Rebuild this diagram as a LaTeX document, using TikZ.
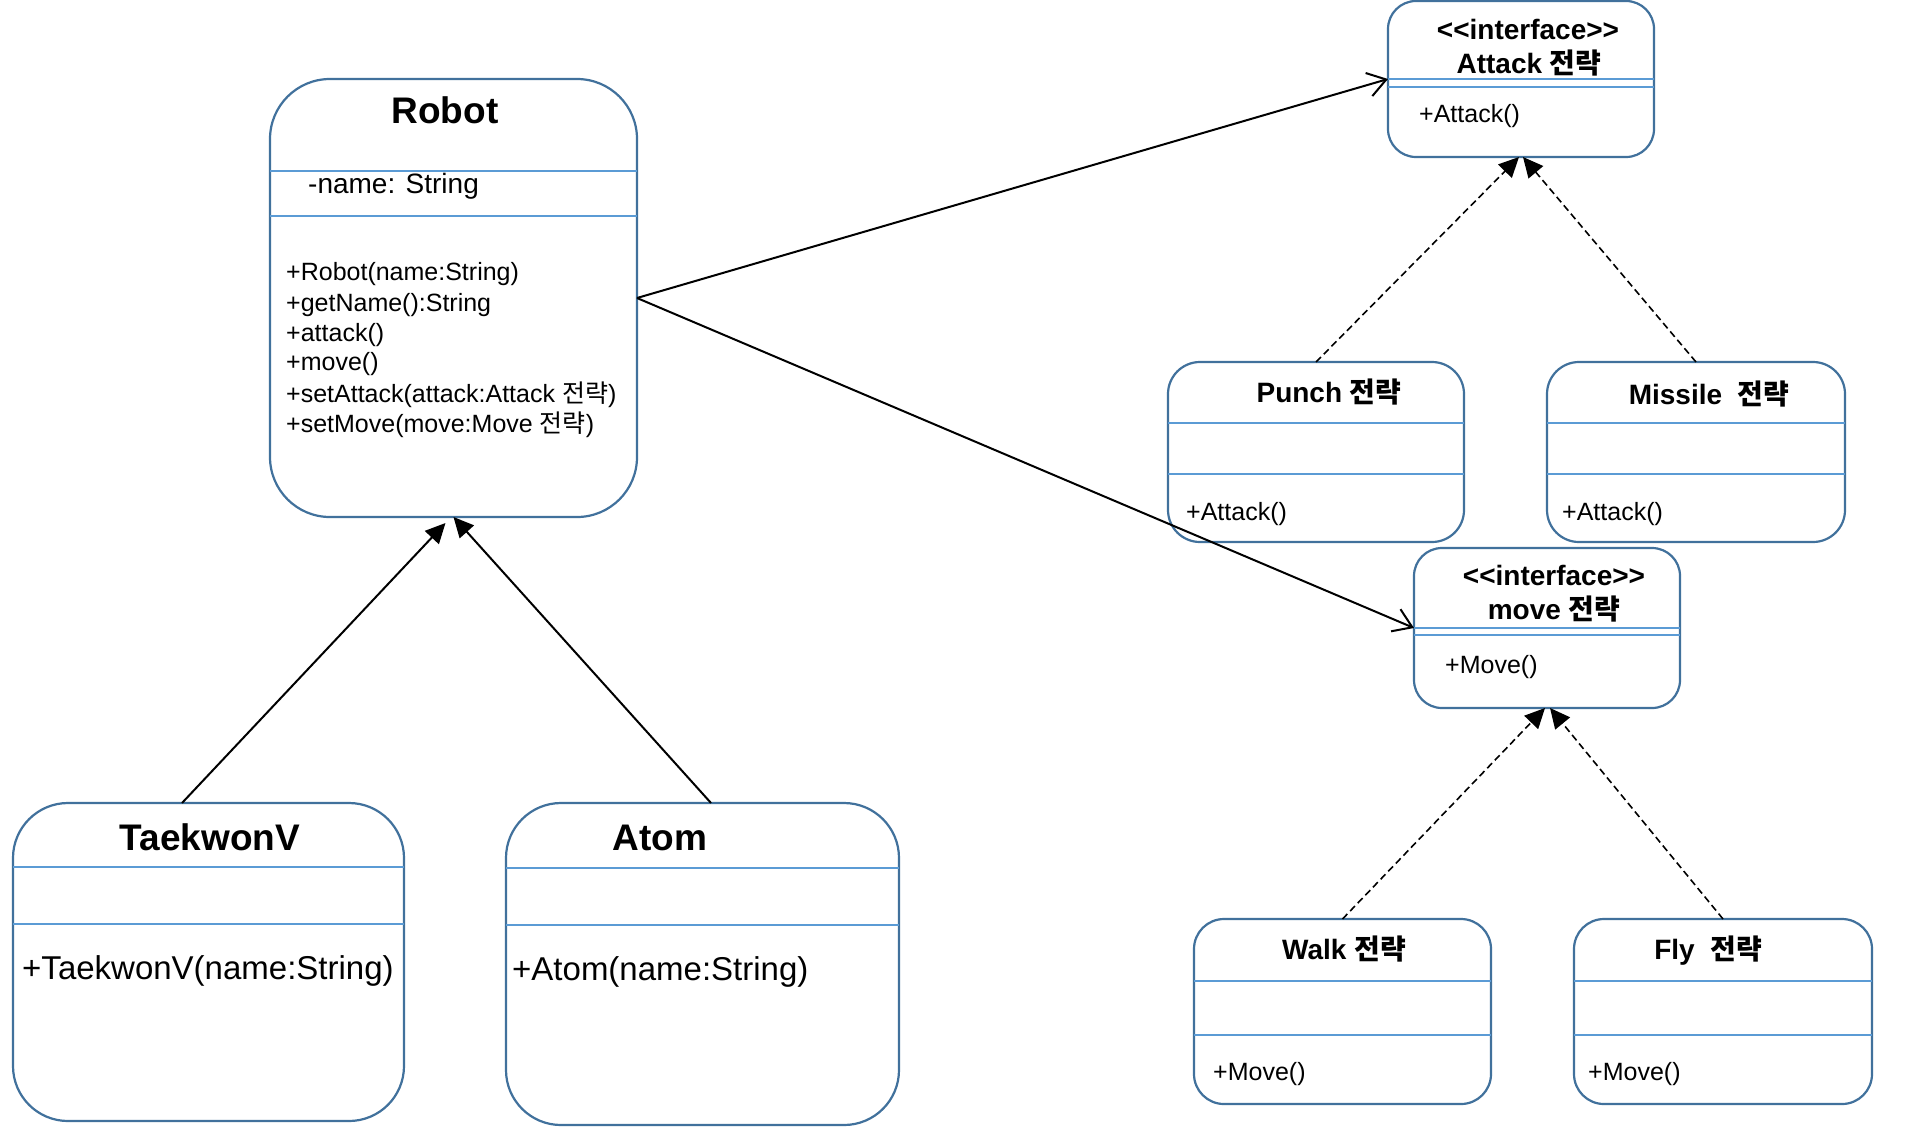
\documentclass[tikz,border=0pt]{standalone}
\usepackage{fontspec}
\setmainfont{Liberation Sans}
\newfontfamily\kor{Noto Sans CJK KR}
\usetikzlibrary{arrows.meta}
\definecolor{boxblue}{HTML}{41719C}
\definecolor{lineblue}{HTML}{5B9BD5}
\newcommand\ko[1]{{\kor #1}}
\newcommand\stereo[1]{<\kern0pt<#1>\kern0pt>}

\tikzset{
  cls/.style={draw=boxblue, line width=2.2pt, inner sep=0pt, outer sep=0pt},
  divider/.style={draw=lineblue, line width=1.4pt},
  bigname/.style={font=\fontsize{37}{40}\selectfont\bfseries, inner sep=0pt},
  nametext/.style={font=\fontsize{28}{32}\selectfont\bfseries, inner sep=0pt},
  member/.style={font=\fontsize{25}{28}\selectfont, inner sep=0pt, anchor=west},
  assoc/.style={line width=2pt, -{Straight Barb[length=18pt,width=24pt,line width=2pt]}},
  inherit/.style={line width=2pt, -{Triangle[length=20pt,width=19pt]}},
  realize/.style={inherit, line width=1.6pt, dash pattern=on 7pt off 4pt},
}

\begin{document}
\begin{tikzpicture}[x=1pt, y=-1pt]
		%%%%% FRAME %%%%%
		\useasboundingbox[fill=white] (0,0) rectangle (1907,1128);
		
		%%%%% CLASSES %%%%%
		\node[cls, minimum width=367pt, minimum height=438pt, rounded corners=60pt] (robot) at (453.5,298) {};
		\node[cls, minimum width=266pt, minimum height=156pt, rounded corners=28pt] (attack) at (1521,79) {};
		\node[cls, minimum width=296pt, minimum height=180pt, rounded corners=32pt] (punch) at (1316,452) {};
		\node[cls, minimum width=298pt, minimum height=180pt, rounded corners=32pt] (missile) at (1696,452) {};
		\node[cls, minimum width=266pt, minimum height=160pt, rounded corners=28pt] (move) at (1547,628) {};
		\node[cls, minimum width=297pt, minimum height=185pt, rounded corners=30pt] (walk) at (1342.5,1011.5) {};
		\node[cls, minimum width=298pt, minimum height=185pt, rounded corners=30pt] (fly) at (1723,1011.5) {};
		\node[cls, minimum width=391pt, minimum height=318pt, rounded corners=55pt] (tv) at (208.5,962) {};
		\node[cls, minimum width=393pt, minimum height=322pt, rounded corners=55pt] (atom) at (702.5,964) {};
		
		%%%%% COMPARTMENTS %%%%%
		\draw[divider] ([yshift=-92pt]robot.north west) -- ([yshift=-92pt]robot.north east);
		\draw[divider] ([yshift=-137pt]robot.north west) -- ([yshift=-137pt]robot.north east);
		\draw[divider] ([yshift=-78pt]attack.north west) -- ([yshift=-78pt]attack.north east);
		\draw[divider] ([yshift=-86pt]attack.north west) -- ([yshift=-86pt]attack.north east);
		\draw[divider] ([yshift=-61pt]punch.north west) -- ([yshift=-61pt]punch.north east);
		\draw[divider] ([yshift=-112pt]punch.north west) -- ([yshift=-112pt]punch.north east);
		\draw[divider] ([yshift=-61pt]missile.north west) -- ([yshift=-61pt]missile.north east);
		\draw[divider] ([yshift=-112pt]missile.north west) -- ([yshift=-112pt]missile.north east);
		\draw[divider] ([yshift=-80pt]move.north west) -- ([yshift=-80pt]move.north east);
		\draw[divider] ([yshift=-87pt]move.north west) -- ([yshift=-87pt]move.north east);
		\draw[divider] ([yshift=-62pt]walk.north west) -- ([yshift=-62pt]walk.north east);
		\draw[divider] ([yshift=-116pt]walk.north west) -- ([yshift=-116pt]walk.north east);
		\draw[divider] ([yshift=-62pt]fly.north west) -- ([yshift=-62pt]fly.north east);
		\draw[divider] ([yshift=-116pt]fly.north west) -- ([yshift=-116pt]fly.north east);
		\draw[divider] ([yshift=-64pt]tv.north west) -- ([yshift=-64pt]tv.north east);
		\draw[divider] ([yshift=-121pt]tv.north west) -- ([yshift=-121pt]tv.north east);
		\draw[divider] ([yshift=-65pt]atom.north west) -- ([yshift=-65pt]atom.north east);
		\draw[divider] ([yshift=-122pt]atom.north west) -- ([yshift=-122pt]atom.north east);
		
		%%%%% TEXTS %%%%%
		\node[bigname] (robotname) at (445,110) {Robot};
		\node[member, font=\fontsize{28}{32}\selectfont] (robotattr) at (308,186) {-name: String};
		\node[member] (robotop1) at (286,274) {+Robot(name:String)};
		\node[member] (robotop2) at (286,305) {+getName():String};
		\node[member] (robotop3) at (286,335) {+attack()};
		\node[member] (robotop4) at (286,364) {+move()};
		\node[member] (robotop5) at (286,395) {+setAttack(attack:Attack \ko{전략})};
		\node[member] (robotop6) at (286,425) {+setMove(move:Move \ko{전략})};
		
		\node[nametext] (attackst) at (1528,29) {\stereo{interface}};
		\node[nametext] (attackname) at (1529,63) {Attack \ko{전략}};
		\node[member] (attackop) at (1419,116) {+Attack()};
		
		\node[nametext] (punchname) at (1329,392) {Punch \ko{전략}};
		\node[member] (punchop) at (1186,514) {+Attack()};
		
		\node[nametext] (missilename) at (1709,394) {Missile\ \ \ko{전략}};
		\node[member] (missileop) at (1562,514) {+Attack()};
		
		\node[nametext] (movest) at (1554,575) {\stereo{interface}};
		\node[nametext] (movename) at (1554,609) {move \ko{전략}};
		\node[member] (moveop) at (1445,667) {+Move()};
		
		\node[nametext] (walkname) at (1344,949) {Walk \ko{전략}};
		\node[member] (walkop) at (1213,1074) {+Move()};
		
		\node[nametext] (flyname) at (1708,951) {Fly\ \ \ko{전략}};
		\node[member] (flyop) at (1588,1074) {+Move()};
		
		\node[bigname] (tvname) at (210,837) {TaekwonV};
		\node[member, font=\fontsize{33}{38}\selectfont] (tvop) at (22,971) {+TaekwonV(name:String)};
		
		\node[bigname] (atomname) at (660,838) {Atom};
		\node[member, font=\fontsize{33}{38}\selectfont] (atomop) at (512,972) {+Atom(name:String)};
		
		%%%%% RELATIONS %%%%%
		\draw[assoc] (robot.east) -- (attack.west);
		\draw[assoc] (robot.east) -- (move.west);
		\draw[inherit] ([xshift=-26.5pt]tv.north) -- ([xshift=-8pt,yshift=-6pt]robot.south);
		\draw[inherit] ([xshift=8.5pt]atom.north) -- (robot.south);
		\draw[realize] (punch.north) -- ([xshift=-2pt]attack.south);
		\draw[realize] (missile.north) -- ([xshift=2pt]attack.south);
		\draw[realize] (walk.north) -- ([xshift=-2pt]move.south);
		\draw[realize] (fly.north) -- ([xshift=3pt]move.south);
		
		%%%%% END %%%%%
	\end{tikzpicture}
\end{document}
